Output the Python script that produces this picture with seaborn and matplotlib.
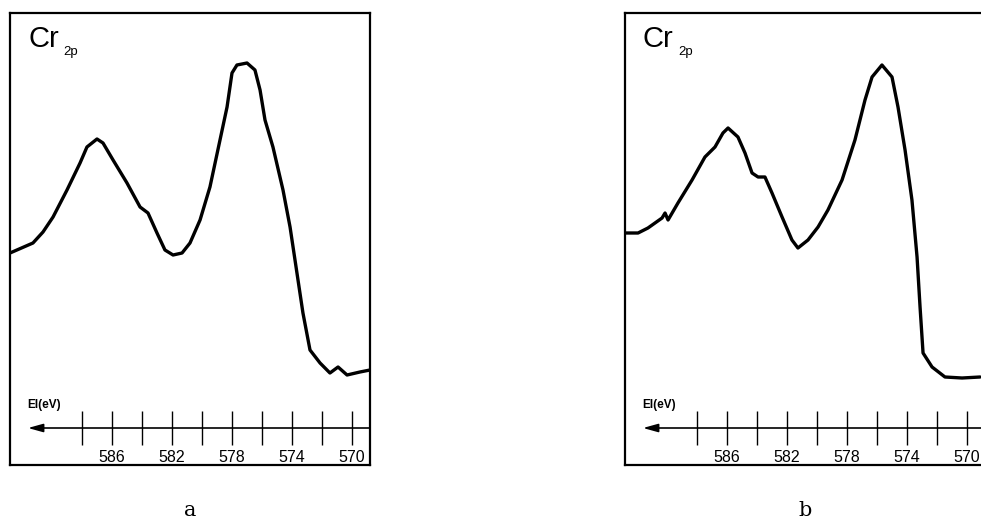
import matplotlib
matplotlib.use("Agg")
import matplotlib.pyplot as plt
import seaborn as sns
import pandas as pd

# ---- data (binding energy in eV, intensity in arbitrary units) ----
energy_a = [592.8, 591.27, 590.6, 589.93, 589.0, 588.13, 587.67, 587.0, 586.6, 585.93,
            585.0, 584.13, 583.6, 583.0, 582.47, 581.93, 581.33, 580.8, 580.13, 579.47,
            578.8, 578.33, 578.0, 577.67, 577.0, 576.47, 576.13, 575.8, 575.27, 574.6,
            574.13, 573.67, 573.27, 572.8, 572.13, 571.47, 570.93, 570.33, 569.47, 568.8]
intensity_a = [212, 222, 233, 248, 275, 302, 318, 326, 322, 305,
               282, 258, 252, 232, 215, 210, 212, 222, 245, 278,
               325, 358, 392, 400, 402, 395, 375, 345, 318, 275,
               238, 192, 152, 115, 102, 92, 98, 90, 93, 95]

energy_b = [592.8, 591.93, 591.27, 590.33, 590.13, 589.93, 589.27, 588.33, 587.47, 586.8,
            586.27, 585.93, 585.27, 584.8, 584.33, 583.93, 583.47, 583.0, 582.33, 581.67,
            581.27, 580.6, 579.93, 579.27, 578.33, 577.47, 576.8, 576.33, 575.67, 575.0,
            574.6, 574.13, 573.67, 573.33, 573.13, 572.93, 572.33, 571.47, 570.33, 569.13]
intensity_b = [232, 232, 237, 247, 252, 245, 262, 285, 308, 318,
               332, 337, 328, 312, 292, 288, 288, 272, 248, 225,
               217, 225, 238, 255, 285, 325, 365, 388, 400, 388,
               358, 315, 265, 208, 158, 112, 98, 88, 87, 88]

major_ticks = [586, 582, 578, 574, 570]
minor_ticks = [588, 584, 580, 576, 572]
panel_labels = ["a", "b"]
element_label = "Cr"
element_sub = "2p"
axis_label = "El(eV)"

X_LIM = (592.8, 568.8)
Y_LIM = (0, 452)

sns.set_style("white")
plt.rcParams["font.family"] = ["Liberation Sans", "DejaVu Sans"]
plt.rcParams["text.color"] = "black"
plt.rcParams["xtick.color"] = "black"

fig = plt.figure(figsize=(9.81, 5.19), dpi=100)

W = 360 / 981
H = 452 / 519
B = (519 - 465) / 519
lefts = [10 / 981, 625 / 981]
datasets = [(energy_a, intensity_a), (energy_b, intensity_b)]

for left, (en, inten), plabel in zip(lefts, datasets, panel_labels):
    ax = fig.add_axes([left, B, W, H])
    df = pd.DataFrame({"E": en, "I": inten})
    sns.lineplot(data=df, x="E", y="I", ax=ax, color="black", linewidth=2.4,
                 estimator=None, sort=False)
    ax.lines[-1].set_solid_joinstyle("round")
    ax.set_xlim(*X_LIM)
    ax.set_ylim(*Y_LIM)
    ax.set_xticks([])
    ax.set_yticks([])
    ax.set_xlabel("")
    ax.set_ylabel("")
    for sp in ax.spines.values():
        sp.set_visible(True)
        sp.set_color("black")
        sp.set_linewidth(1.6)

    # energy scale inside the frame
    loc = (465 - 428) / 452
    sec = ax.secondary_xaxis(loc)
    sec.spines["bottom"].set_visible(False)
    sec.set_xticks(major_ticks)
    sec.set_xticks(minor_ticks, minor=True)
    sec.set_xticklabels([str(t) for t in major_ticks])
    sec.tick_params(which="both", direction="inout", length=25, width=1.0,
                    color="black", pad=3.5, labelsize=11.5, labelcolor="black")
    ax.annotate("", xy=(0.05, loc), xytext=(1.0, loc), xycoords="axes fraction",
                textcoords="axes fraction",
                arrowprops=dict(arrowstyle="-|>,head_length=0.9,head_width=0.25",
                                color="black", lw=1.2, shrinkA=0, shrinkB=0))

    ax.text(0.047, (465 - 408) / 452, axis_label, transform=ax.transAxes,
            fontsize=8.5, fontweight="bold", ha="left", va="baseline", color="black")
    ax.text(0.05, 1 - (47 - 13) / 452, element_label, transform=ax.transAxes,
            fontsize=21, ha="left", va="baseline", color="black")
    ax.text(0.148, 1 - (52 - 13) / 452, element_sub, transform=ax.transAxes,
            fontsize=9.5, ha="left", va="center", color="black")

    fig.text(left + (180 / 981), 1 - 510 / 519, plabel, fontsize=15,
             family="DejaVu Serif", ha="center", va="center", color="black")

fig.savefig("out.png", dpi=100)
